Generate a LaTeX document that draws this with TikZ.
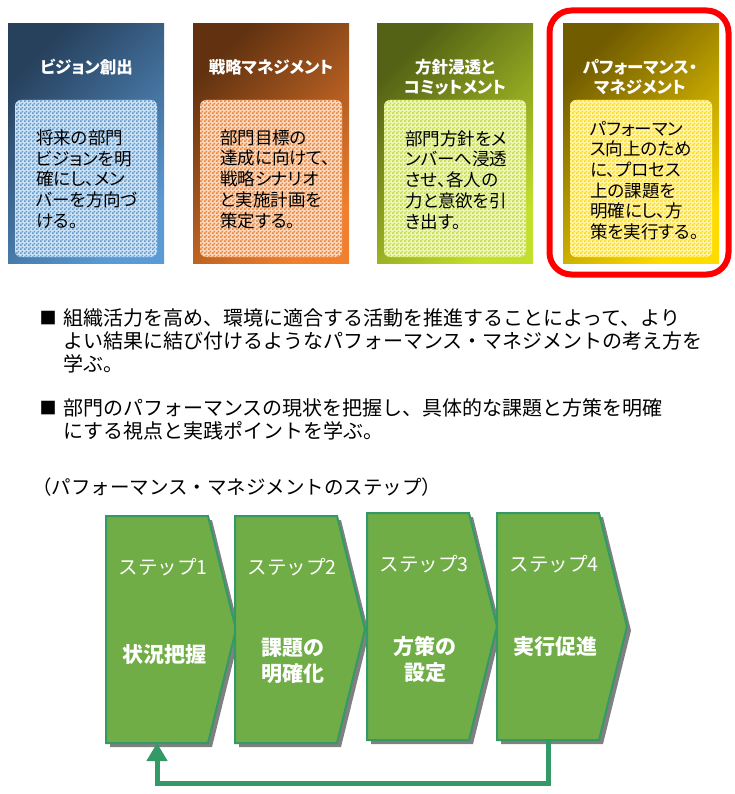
\documentclass[tikz,border=0pt]{standalone}
\usepackage{fontspec}
\setmainfont{Noto Sans CJK JP}
\newfontfamily\jpp[RawFeature=+palt]{Noto Sans CJK JP}
\usepackage{tikz}
\usetikzlibrary{patterns}
\usetikzlibrary{arrows.meta}

\definecolor{dark1}{HTML}{27405C}
\definecolor{light1}{HTML}{5B9BD5}
\definecolor{dark2}{HTML}{623210}
\definecolor{light2}{HTML}{F07F2E}
\definecolor{dark3}{HTML}{536214}
\definecolor{light3}{HTML}{C4DE2C}
\definecolor{dark4}{HTML}{725C00}
\definecolor{light4}{HTML}{FFDC00}
\definecolor{stepfill}{HTML}{70AD47}
\definecolor{stepline}{HTML}{339966}

\pgfdeclarepatternformonly{finechecker}{\pgfpointorigin}{\pgfqpoint{4pt}{4pt}}{\pgfqpoint{4pt}{4pt}}{
  \pgfpathrectangle{\pgfpointorigin}{\pgfqpoint{2pt}{2pt}}
  \pgfpathrectangle{\pgfqpoint{2pt}{2pt}}{\pgfqpoint{2pt}{2pt}}
  \pgfusepath{fill}
}

\tikzset{
  innerpanel/.style={rounded corners=6, pattern=finechecker},
  titletext/.style={text=white, font=\jpp\bfseries\fontsize{16.5}{20}\selectfont, align=center, inner sep=0},
  bodytext/.style={font=\jpp\fontsize{17.5}{20.7}\selectfont, align=left, inner sep=0, anchor=west},
  focus/.style={draw=red, line width=6, rounded corners=22},
  bulletmark/.style={font=\fontsize{17}{20}\selectfont, inner sep=0},
  bullettext/.style={font=\fontsize{20}{23}\selectfont, align=left, inner sep=0, anchor=west},
  captiontext/.style={font=\fontsize{19.5}{23}\selectfont, inner sep=0, anchor=west},
  stepshadow/.style={fill=black!50},
  stepbox/.style={fill=stepfill, draw=stepline, line width=2},
  steptitle/.style={text=white, font=\fontsize{19.5}{22}\selectfont, inner sep=0},
  steplabel/.style={text=white, font=\jpp\bfseries\fontsize{21}{26}\selectfont, align=center, inner sep=0},
  feedback/.style={draw=stepline, line width=5, -{Triangle[width=20pt,length=18pt]}}
}

\begin{document}
\begin{tikzpicture}[x=1pt,y=-1pt]
\useasboundingbox (0,0) rectangle (734,794);

% four panels
\foreach \x [count=\n] in {8,193,377,563}{
  \shade[top color=dark\n, bottom color=light\n, shading angle=45] (\x,24) rectangle ++(156,239);
  \path[innerpanel, pattern color=light\n, preaction={fill=light\n!30}] (\x+7,100) rectangle (\x+149,257);
}
\node[titletext] (t1) at (86.5,67) {ビジョン創出};
\node[titletext] (t2) at (271,67) {戦略マネジメント};
\node[titletext] (t3) at (455,77) {方針浸透と\\コミットメント};
\node[titletext] (t4) at (640,77) {パフォーマンス・\\マネジメント};
\node[bodytext] (d1) at (36,179) {将来の部門\\ビジョンを明\\確にし、メン\\バーを方向づ\\ける。};
\node[bodytext] (d2) at (220,179) {部門目標の\\達成に向けて、\\戦略シナリオ\\と実施計画を\\策定する。};
\node[bodytext] (d3) at (405,180) {部門方針をメ\\ンバーへ浸透\\させ、各人の\\力と意欲を引\\き出す。};
\node[bodytext] (d4) at (590,180.5) {パフォーマン\\ス向上のため\\に、プロセス\\上の課題を\\明確にし、方\\策を実行する。};
\draw[focus] (549.5,10.5) rectangle (728.5,274.5);

% bullets
\node[bulletmark] (m1) at (48,318) {■};
\node[bullettext] (p1) at (63,341) {組織活力を高め、環境に適合する活動を推進することによって、より\\よい結果に結び付けるようなパフォーマンス・マネジメントの考え方を\\学ぶ。};
\node[bulletmark] (m2) at (48,408) {■};
\node[bullettext] (p2) at (63,419.5) {部門のパフォーマンスの現状を把握し、具体的な課題と方策を明確\\にする視点と実践ポイントを学ぶ。};
\node[captiontext] (cap) at (32,487) {（パフォーマンス・マネジメントのステップ）};

% steps
\foreach \x/\y/\n/\lbl/\ly in {106/516/1/状況把握/139, 235/516/2/{課題の\\明確化}/144.5, 367/513/3/{方策の\\設定}/146.5, 497/513/4/実行促進/134}{
  \fill[stepshadow] (\x+4,\y+4) -- ++(102,0) -- ++(28,113.5) -- ++(-28,113.5) -- ++(-102,0) -- cycle;
  \draw[stepbox] (\x,\y) -- ++(102,0) -- ++(28,113.5) -- ++(-28,113.5) -- ++(-102,0) -- cycle;
  \node[steptitle] (h\n) at (\x+57,\y+51) {ステップ\n};
  \node[steplabel] (l\n) at (\x+58,\y+\ly) {\lbl};
  \coordinate (foot\n) at (\x+51,\y+227);
}
\draw[feedback] (foot4) -- ++(0,43) -| (foot1);

\end{tikzpicture}
\end{document}
